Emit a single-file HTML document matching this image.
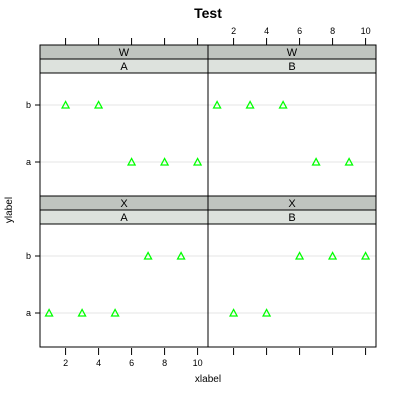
<!DOCTYPE html>
<html><head><meta charset="utf-8"><style>
body{margin:0;background:#fff;}
svg{display:block;font-family:"Liberation Sans",sans-serif;}
</style></head><body>
<svg id="chart" width="400" height="400">
<text x="208" y="18" text-anchor="middle" font-size="14" font-weight="bold">Test</text>
<text x="208" y="382" text-anchor="middle" font-size="10">xlabel</text>
<text x="12" y="210" text-anchor="middle" font-size="10" transform="rotate(-90 12 210)">ylabel</text>
</svg>
<script>
const categories = ['a','b'];
const xTicks = [2,4,6,8,10];
const panels = [
 {row:'W', col:'A', a:[6,8,10], b:[2,4]},
 {row:'W', col:'B', a:[7,9], b:[1,3,5]},
 {row:'X', col:'A', a:[1,3,5], b:[7,9]},
 {row:'X', col:'B', a:[2,4], b:[6,8,10]}
];
const svg = document.getElementById('chart');
const NS='http://www.w3.org/2000/svg';
function mk(t,a,p){const e=document.createElementNS(NS,t);for(const k in a)e.setAttribute(k,a[k]);(p||svg).appendChild(e);return e;}
const L=40, W=168, rowTop=[45,196], stripH=14, panH=123;
function xs(v,c){return L+c*W+(v-0.45)*16.5;}
function ys(cat,top){return top+(cat==='b'?32:89);}
panels.forEach((p,i)=>{
 const c=i%2, r=Math.floor(i/2), top=rowTop[r];
 const x0=L+c*W, pt=top+2*stripH;
 const g=mk('g',{});
 
 
 categories.forEach(cat=>{
  const gl=mk('line',{x1:x0,x2:x0+W,y1:ys(cat,pt),y2:ys(cat,pt),stroke:'#e6e6e6'},g);
  
  
  p[cat].forEach(v=>{
   const x=xs(v,c), y=ys(cat,pt);
   const t=mk('polygon',{points:`${x},${y-3.5} ${x-3.5},${y+3} ${x+3.5},${y+3}`,fill:'none',stroke:'#00ff00','stroke-width':1.3},g);
   
   
  });
 });
 const s1=mk('rect',{x:x0,y:top,width:W,height:stripH,fill:'#bfc4bf',stroke:'#000'},g);
 
 
 const s1t=mk('text',{x:x0+W/2,y:top+11,'text-anchor':'middle','font-size':11},g);s1t.textContent=p.row;
 
 
 const s2=mk('rect',{x:x0,y:top+stripH,width:W,height:stripH,fill:'#dde2dd',stroke:'#000'},g);
 
 
 const s2t=mk('text',{x:x0+W/2,y:top+stripH+11,'text-anchor':'middle','font-size':11},g);s2t.textContent=p.col;
 
 
 const fr=mk('rect',{x:x0,y:top,width:W,height:2*stripH+panH,fill:'none',stroke:'#000'},g);
 
 
});
// y ticks
[0,1].forEach(r=>{const pt=rowTop[r]+2*stripH;categories.forEach(cat=>{
 const y=ys(cat,pt);
 mk('line',{x1:L-5,x2:L,y1:y,y2:y,stroke:'#000'});
 const t=mk('text',{x:L-9,y:y+3,'text-anchor':'end','font-size':9});t.textContent=cat;
 
 
});});
// x ticks
[0,1].forEach(c=>{xTicks.forEach(v=>{
 const x=xs(v,c);
 mk('line',{x1:x,x2:x,y1:38,y2:45,stroke:'#000'});
 mk('line',{x1:x,x2:x,y1:348,y2:355,stroke:'#000'});
 const y=c===0?366:34;
 const t=mk('text',{x:x,y:y,'text-anchor':'middle','font-size':9});t.textContent=v;
 
 
});});
</script>
</body></html>
